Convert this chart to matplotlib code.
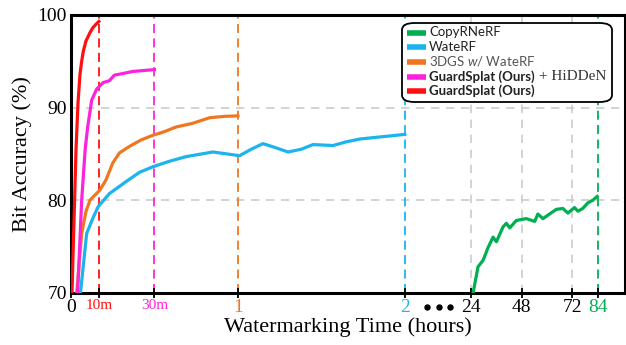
import numpy as np
import matplotlib
matplotlib.use("Agg")
import matplotlib.pyplot as plt
from matplotlib.lines import Line2D
from matplotlib.patches import FancyBboxPatch

# broken time axis: hours -> position
brk_h = [0, 2, 24, 120]
brk_p = [0, 334, 400, 603.2]

def fwd(x):
    return np.interp(x, brk_h, brk_p)

def inv(p):
    return np.interp(p, brk_p, brk_h)

# data (hours, bit accuracy %)
red_t = [0.0, 0.006, 0.016, 0.03, 0.042, 0.054, 0.064, 0.074, 0.09, 0.114, 0.13, 0.15, 0.167]
red_y = [68, 70, 76.4, 85.4, 90.5, 93.6, 95.0, 96.1, 97.2, 98.1, 98.6, 99.0, 99.3]

mag_t = [0.035, 0.064, 0.085, 0.1, 0.124, 0.154, 0.193, 0.23, 0.26, 0.29, 0.37, 0.5]
mag_y = [68, 80.0, 85.5, 87.9, 90.8, 92.0, 92.7, 92.9, 93.5, 93.6, 93.9, 94.1]

org_t = [0.025, 0.064, 0.09, 0.114, 0.174, 0.21, 0.25, 0.29, 0.35, 0.42, 0.49, 0.56, 0.63, 0.73, 0.83, 0.92, 1.0]
org_y = [68, 76.4, 78.8, 80.0, 81.1, 82.2, 84.0, 85.1, 85.8, 86.5, 87.0, 87.4, 87.9, 88.3, 88.9, 89.05, 89.1]

blu_t = [0.045, 0.094, 0.13, 0.163, 0.23, 0.33, 0.41, 0.49, 0.59, 0.69, 0.85, 0.93, 1.01, 1.08,
         1.15, 1.22, 1.30, 1.38, 1.45, 1.57, 1.65, 1.73, 2.0]
blu_y = [68, 76.4, 78.0, 79.3, 80.7, 82.0, 83.0, 83.6, 84.2, 84.7, 85.2, 85.0, 84.8, 85.5,
         86.1, 85.7, 85.2, 85.5, 86.0, 85.9, 86.3, 86.6, 87.1]

grn_t = [24.8, 25.1, 27.4, 29.8, 32.2, 34.5, 36.1, 39.2, 40.8, 42.4, 45.5, 50.2, 54.2, 55.7,
         58.1, 61.2, 64.4, 67.5, 69.9, 73.0, 74.6, 76.9, 79.3, 81.7, 83.7]
grn_y = [68, 70, 72.8, 73.5, 74.9, 76.0, 75.5, 77.1, 77.5, 77.0, 77.8, 78.0, 77.7, 78.5,
         78.0, 78.5, 79.0, 79.1, 78.6, 79.2, 78.8, 79.1, 79.7, 80.0, 80.4]

xt = [0, 1/6, 0.5, 1, 2, 24, 48, 72, 84]
xt_lab = ["0", "10m", "30m", "1", "2", "24", "48", "72", "84"]

c_red = "#FF1010"
c_mag = "#FF22DD"
c_org = "#EE7722"
c_blu = "#1CB4EE"
c_grn = "#00B050"
xt_col = ["black", c_red, c_mag, c_org, c_blu, "black", "black", "black", c_grn]

names = ["CopyRNeRF", "WateRF", "3DGS $\\it{w/}$ WateRF", "GuardSplat (Ours)", "GuardSplat (Ours)"]
name_col = [c_grn, c_blu, c_org, c_mag, c_red]

plt.rcParams["font.family"] = ["Liberation Serif", "DejaVu Serif"]
plt.rcParams["mathtext.fontset"] = "custom"
plt.rcParams["mathtext.it"] = "Lato:italic"
plt.rcParams["mathtext.rm"] = "Lato"

W, H = 626, 345
fig = plt.figure(figsize=(W / 100, H / 100), dpi=100)
ax = fig.add_axes([0.1134, 0.1516, 0.8846, 0.805])
ax.set_xscale("function", functions=(fwd, inv))
ax.set_xlim(0, 96.75)
ax.set_ylim(70, 100)

# grid
for yv in [80, 90]:
    ax.axhline(yv, color="#cccccc", lw=1.2, ls=(0, (5, 4)), zorder=0)
for xv in [24, 48, 72]:
    ax.axvline(xv, color="#cccccc", lw=1.2, ls=(0, (5, 4)), zorder=0)

# end-time markers
for xv, c in [(1/6, c_red), (0.5, c_mag), (1, c_org), (2, c_blu), (84, c_grn)]:
    ax.axvline(xv, color=c, lw=1.3, ls=(0, (5, 3)), zorder=1)

lw = 2.3
ax.plot(grn_t, grn_y, color=c_grn, lw=lw, zorder=3)
ax.plot(blu_t, blu_y, color=c_blu, lw=lw, zorder=3)
ax.plot(org_t, org_y, color=c_org, lw=lw, zorder=3)
ax.plot(mag_t, mag_y, color=c_mag, lw=lw, zorder=3)
ax.plot(red_t, red_y, color=c_red, lw=lw, zorder=3)

ax.set_xticks(xt)
ax.set_xticklabels(xt_lab)
for lab, c, s in zip(ax.get_xticklabels(), xt_col, xt_lab):
    lab.set_color(c)
    lab.set_fontsize(11 if s.endswith("m") else 14)
ax.set_yticks([70, 80, 90, 100])
ax.tick_params(axis="y", labelsize=14, length=0, pad=3)
ax.tick_params(axis="x", direction="inout", length=7, width=1.3, pad=1)

for s in ax.spines.values():
    s.set_linewidth(2.2)

ax.set_xlabel("Watermarking Time (hours)", fontsize=16, labelpad=1)
ax.set_ylabel("Bit Accuracy (%)", fontsize=16, labelpad=4)

# pixel helpers for hand-placed decorations
def fx(px):
    return px / W

def fy(py):
    return 1 - py / H

# axis-break dots
fig.add_artist(Line2D([fx(427), fx(438.5), fx(450)], [fy(307)] * 3, ls="none", marker="o",
                      ms=3.6, color="black", transform=fig.transFigure))

# legend drawn by hand (mixed fonts in one entry)
box = FancyBboxPatch((fx(402), fy(102)), fx(612) - fx(402), fy(23) - fy(102),
                     boxstyle="round,pad=0,rounding_size=0.02", transform=fig.transFigure,
                     facecolor="white", edgecolor="black", lw=1.3, zorder=10)
fig.add_artist(box)
rows = [32.5, 47.0, 61.5, 76.5, 91.0]
for i, (nm, c, ry) in enumerate(zip(names, name_col, rows)):
    fig.add_artist(Line2D([fx(407), fx(426)], [fy(ry), fy(ry)], color=c, lw=4,
                          transform=fig.transFigure, zorder=11, solid_capstyle="butt"))
    bold = i >= 3
    t = fig.text(fx(429), fy(ry), nm, family="Lato", fontsize=9.5,
                 fontweight="bold" if bold else "normal",
                 color="#555555" if i == 2 else "#222222", va="center", ha="left", zorder=12)
    if i == 3:
        fig.canvas.draw()
        bb = t.get_window_extent()
        fig.text(bb.x1 / W + fx(4), fy(ry), "+ HiDDeN", fontsize=11, color="#333333",
                 va="center", ha="left", zorder=12)

fig.savefig("out.png", dpi=100)
